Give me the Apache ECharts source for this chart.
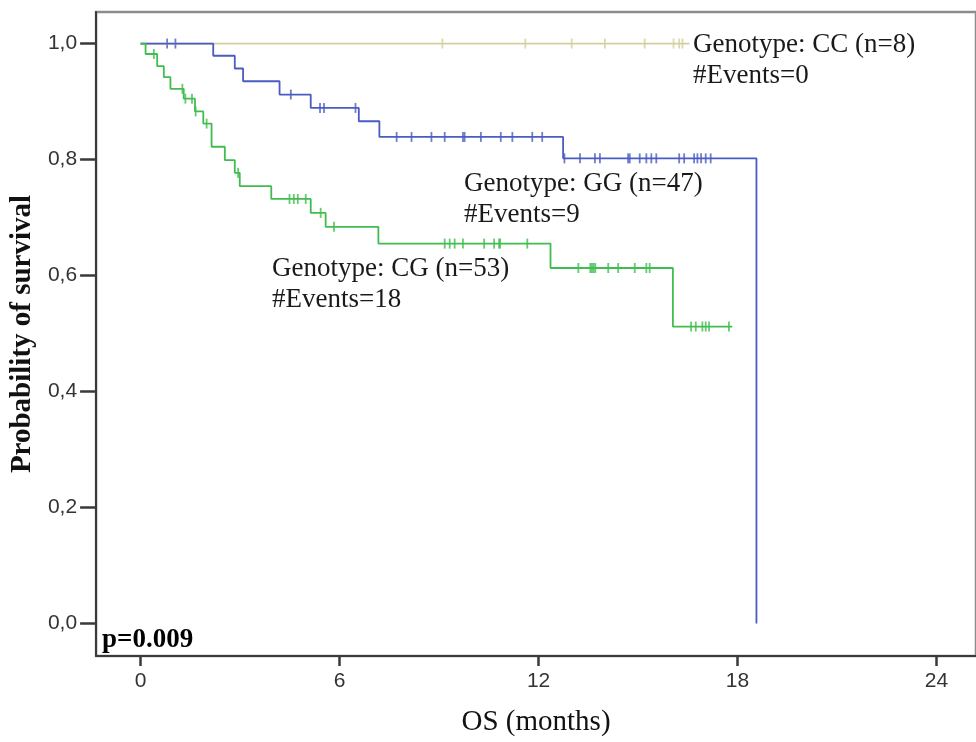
<!DOCTYPE html>
<html>
<head>
<meta charset="utf-8">
<script src="https://cdn.jsdelivr.net/npm/echarts@6/dist/echarts.min.js"></script>
<style>
  html, body { margin: 0; padding: 0; background: #fff; }
  #km { width: 976px; height: 742px; }
</style>
</head>
<body>
<div id="km"></div>
<script>
// x ticks (months) and y ticks (probability)
var xTicks = [0, 6, 12, 18, 24]
var yTicks = [0, 0.2, 0.4, 0.6, 0.8, 1.0]

// Genotype CC: no events
var ccTimes = [0, 16.55]
var ccSurv = [1.0, 1.0]
var ccCensor = [9.1, 11.6, 13.0, 14.0, 15.2, 16.07, 16.24, 16.34]

// Genotype GG: step times and survival after each step
var ggTimes = [0, 2.19, 2.84, 3.09, 4.19, 5.13, 6.58, 7.2, 12.74, 18.57]
var ggSurv = [1.0, 0.979, 0.957, 0.935, 0.912, 0.889, 0.866, 0.839, 0.802, 0.0]
var ggCensor = [0.8, 1.05, 4.53, 5.41, 5.53, 6.48, 7.72, 8.17, 8.77, 9.17, 9.72, 9.77, 10.26,
  10.86, 11.21, 11.81, 12.11, 12.78, 13.25, 13.7, 13.85, 14.7, 14.75, 15.05, 15.25, 15.4,
  15.55, 16.24, 16.39, 16.69, 16.79, 16.9, 17.04, 17.19]

// Genotype CG
var cgTimes = [0, 0.15, 0.5, 0.7, 0.9, 1.3, 1.64, 1.89, 2.14, 2.54, 2.84, 2.99, 3.94, 5.13, 5.58, 7.17, 12.36, 16.05, 17.84]
var cgSurv = [1.0, 0.982, 0.961, 0.942, 0.922, 0.905, 0.883, 0.862, 0.822, 0.799, 0.777, 0.754, 0.732, 0.708, 0.684, 0.655, 0.613, 0.512, 0.512]
var cgCensor = [0.4, 1.26, 1.35, 1.55, 1.66, 1.99, 2.94, 4.49, 4.62, 4.74, 4.98, 5.43, 5.83,
  9.17, 9.32, 9.47, 9.72, 10.36, 10.66, 10.81, 10.84, 11.66,
  13.2, 13.56, 13.61, 13.66, 13.71, 14.1, 14.4, 14.9, 15.25, 15.35,
  16.6, 16.74, 16.94, 17.04, 17.14, 17.74]

function stepData(times, surv) {
  return times.map(function (t, i) { return [t, surv[i]] })
}
// survival level at a censoring time (value holding at t)
function censorData(times, surv, cens) {
  return cens.map(function (c) {
    var s = surv[0]
    for (var i = 0; i < times.length; i++) {
      if (times[i] <= c) s = surv[i]
    }
    return [c, s]
  })
}

var colCC = '#d3cf9c'
var colGG = '#4a5cc2'
var colCG = '#40bd4f'

function curve(name, color, times, surv) {
  return {
    name: name,
    type: 'line',
    step: 'end',
    symbol: 'none',
    lineStyle: { color: color, width: 1.8 },
    data: stepData(times, surv)
  }
}
function ticks(name, color, times, surv, cens) {
  return {
    name: name + ' censored',
    type: 'scatter',
    symbol: 'rect',
    symbolSize: [1.8, 10],
    itemStyle: { color: color },
    data: censorData(times, surv, cens)
  }
}

var chart = echarts.init(document.getElementById('km'))
var serif = '"Liberation Serif", "Times New Roman", serif'
var sans = '"Liberation Sans", Arial, sans-serif'
var option = {
  animation: false,
  grid: {
    left: 90, right: -4, top: 12, bottom: 77,
    show: true, borderColor: '#8c8c8c', borderWidth: 2.5
  },
  xAxis: {
    type: 'value',
    min: -1.342, max: 25.19,
    name: 'OS (months)',
    nameLocation: 'middle',
    nameGap: 52,
    nameTextStyle: { fontFamily: serif, fontSize: 29, color: '#111' },
    splitLine: { show: false },
    axisLine: { onZero: false, lineStyle: { color: '#3a3a3a', width: 2 } },
    axisTick: { customValues: xTicks, length: 10, lineStyle: { color: '#3a3a3a', width: 2.5 } },
    axisLabel: {
      customValues: xTicks, margin: 15,
      fontFamily: sans, fontSize: 21, color: '#333'
    }
  },
  yAxis: {
    type: 'value',
    min: -0.0561, max: 1.0544,
    name: 'Probability of survival',
    nameLocation: 'middle',
    nameGap: 53,
    nameTextStyle: { fontFamily: serif, fontSize: 29, fontWeight: 'bold', color: '#111' },
    splitLine: { show: false },
    axisLine: { onZero: false, lineStyle: { color: '#3a3a3a', width: 2 } },
    axisTick: { customValues: yTicks, length: 16, lineStyle: { color: '#3a3a3a', width: 2.5 } },
    axisLabel: {
      customValues: yTicks, margin: 19,
      fontFamily: sans, fontSize: 21, color: '#333',
      formatter: function (v) { return v.toFixed(1).replace('.', ',') }
    }
  },
  series: [
    curve('CC', colCC, ccTimes, ccSurv),
    ticks('CC', colCC, ccTimes, ccSurv, ccCensor),
    curve('GG', colGG, ggTimes, ggSurv),
    ticks('GG', colGG, ggTimes, ggSurv, ggCensor),
    curve('CG', colCG, cgTimes, cgSurv),
    ticks('CG', colCG, cgTimes, cgSurv, cgCensor)
  ],
  graphic: [
    { type: 'text', left: 693, top: 29, style: { text: 'Genotype: CC (n=8)\n#Events=0', font: '27px ' + serif, lineHeight: 31, fill: '#1a1a1a' } },
    { type: 'text', left: 464, top: 168, style: { text: 'Genotype: GG (n=47)\n#Events=9', font: '27px ' + serif, lineHeight: 31, fill: '#1a1a1a' } },
    { type: 'text', left: 272, top: 253, style: { text: 'Genotype: CG (n=53)\n#Events=18', font: '27px ' + serif, lineHeight: 31, fill: '#1a1a1a' } },
    { type: 'text', left: 102, top: 627, style: { text: 'p=0.009', font: 'bold 27px ' + serif, fill: '#000' } }
  ]
}
chart.setOption(option)
</script>
</body>
</html>
